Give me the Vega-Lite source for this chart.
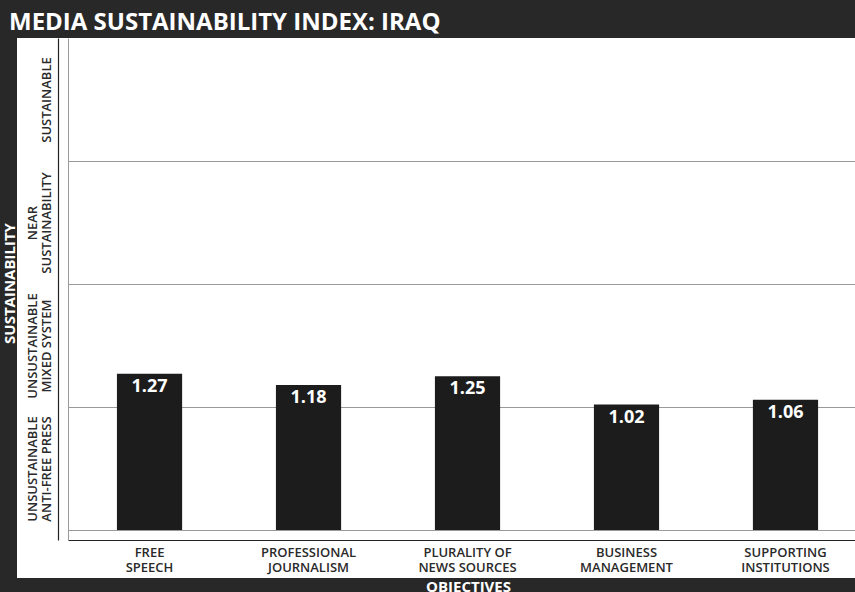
{
  "$schema": "https://vega.github.io/schema/vega-lite/v6.json",
  "width": 838,
  "height": 540,
  "autosize": {"type": "none"},
  "padding": {"left": 17, "top": 38, "right": 0, "bottom": 14},
  "background": "#282828",
  "view": {"fill": "white", "stroke": null},
  "config": {"font": "Open Sans"},
  "title": {
    "text": "MEDIA SUSTAINABILITY INDEX: IRAQ",
    "anchor": "start",
    "frame": "group",
    "color": "white",
    "font": "Open Sans",
    "fontSize": 24,
    "fontWeight": "bold",
    "offset": 3,
    "dx": -8
  },
  "data": {
    "values": [
      {"objective": "FREE SPEECH", "score": 1.27},
      {"objective": "PROFESSIONAL JOURNALISM", "score": 1.18},
      {"objective": "PLURALITY OF NEWS SOURCES", "score": 1.25},
      {"objective": "BUSINESS MANAGEMENT", "score": 1.02},
      {"objective": "SUPPORTING INSTITUTIONS", "score": 1.06}
    ]
  },
  "encoding": {
    "x": {
      "field": "objective",
      "type": "nominal",
      "sort": null,
      "scale": {"range": [51, 838], "paddingInner": 0.59, "paddingOuter": 0.27, "align": 0.57},
      "axis": {
        "orient": "bottom",
        "offset": -38,
        "title": "OBJECTIVES",
        "grid": false,
        "ticks": false,
        "domainColor": "#222222",
        "domainWidth": 1.2,
        "labelAngle": 0,
        "labelFont": "Open Sans",
        "labelFontSize": 13,
        "labelFontWeight": 600,
        "labelColor": "#2a2a2a",
        "labelPadding": 6,
        "labelBaseline": "top",
        "labelLineHeight": 15.5,
        "labelLimit": 0,
        "labelExpr": "datum.value == 'FREE SPEECH' ? ['FREE','SPEECH'] : datum.value == 'PROFESSIONAL JOURNALISM' ? ['PROFESSIONAL','JOURNALISM'] : datum.value == 'PLURALITY OF NEWS SOURCES' ? ['PLURALITY OF','NEWS SOURCES'] : datum.value == 'BUSINESS MANAGEMENT' ? ['BUSINESS','MANAGEMENT'] : ['SUPPORTING','INSTITUTIONS']",
        "titleFont": "Open Sans",
        "titleColor": "white",
        "titleFontSize": 15,
        "titleFontWeight": "bold",
        "titleX": 451,
        "titleY": 39,
        "titleAlign": "center",
        "titleBaseline": "top"
      }
    }
  },
  "layer": [
    {
      "mark": {"type": "bar", "color": "#1c1c1c"},
      "encoding": {
        "y": {
          "field": "score",
          "type": "quantitative",
          "scale": {"domain": [-0.081, 4.0], "range": [502, 0], "nice": false, "zero": false},
          "axis": {
            "orient": "left",
            "offset": -41,
            "values": [0.5, 1.5, 2.5, 3.5],
            "grid": false,
            "ticks": false,
            "domainColor": "#222222",
            "domainWidth": 1.2,
            "labelExpr": "datum.value == 3.5 ? ['', 'SUSTAINABLE'] : datum.value == 2.5 ? ['NEAR','SUSTAINABILITY'] : datum.value == 1.5 ? ['UNSUSTAINABLE','MIXED SYSTEM'] : ['UNSUSTAINABLE','ANTI-FREE PRESS']",
            "labelAngle": -90,
            "labelAlign": "center",
            "labelBaseline": "bottom",
            "labelPadding": 19,
            "labelFont": "Open Sans",
            "labelFontSize": 13,
            "labelFontWeight": 600,
            "labelColor": "#2a2a2a",
            "labelLineHeight": 14.7,
            "labelOverlap": false,
            "labelLimit": 0,
            "title": "SUSTAINABILITY",
            "titleFont": "Open Sans",
            "titleColor": "white",
            "titleFontSize": 15,
            "titleFontWeight": "bold",
            "titleAngle": -90,
            "titleX": -48.5,
            "titleY": 245,
            "titleAlign": "center",
            "titleBaseline": "middle"
          }
        }
      }
    },
    {
      "mark": {"type": "text", "baseline": "top", "dy": 4, "color": "white", "fontSize": 18, "fontWeight": "bold", "font": "Open Sans"},
      "encoding": {
        "y": {
          "field": "score",
          "type": "quantitative",
          "scale": {"domain": [-0.081, 4.0], "range": [502, 0], "nice": false, "zero": false},
          "axis": {
            "orient": "left",
            "offset": -51,
            "values": [0, 1, 2, 3],
            "grid": true,
            "gridColor": "#9a9a9a",
            "gridWidth": 1,
            "gridOpacity": 1,
            "labels": false,
            "ticks": false,
            "domainColor": "#9a9a9a",
            "title": null
          }
        },
        "text": {"field": "score", "type": "quantitative", "format": ".2f"}
      }
    }
  ],
  "resolve": {"axis": {"y": "independent"}}
}
